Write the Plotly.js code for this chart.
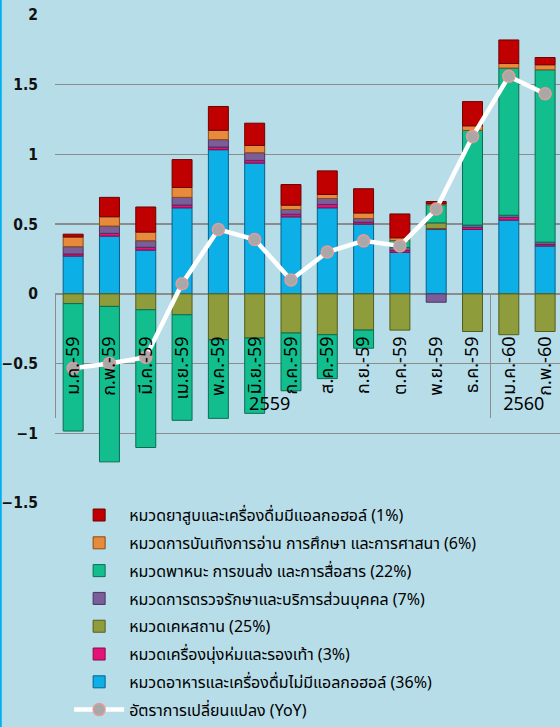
<!DOCTYPE html>
<html><head><meta charset="utf-8">
<script src="https://cdn.plot.ly/plotly-3.0.1.min.js"></script>
<style>html,body{margin:0;padding:0;background:#b7dde8;overflow:hidden}#chart{width:560px;height:727px}</style>
</head><body><div id="chart"></div>
<script>
const months = ['ม.ค.-59','ก.พ.-59','มี.ค.-59','เม.ย.-59','พ.ค.-59','มิ.ย.-59','ก.ค.-59','ส.ค.-59','ก.ย.-59','ต.ค.-59','พ.ย.-59','ธ.ค.-59','ม.ค.-60','ก.พ.-60'];
const years = ['2559','2559','2559','2559','2559','2559','2559','2559','2559','2559','2559','2559','2560','2560'];

const food       = [0.271, 0.414, 0.314, 0.617, 1.034, 0.938, 0.552, 0.617, 0.500, 0.298, 0.464, 0.462, 0.529, 0.343];
const clothing   = [0.015, 0.020, 0.020, 0.020, 0.019, 0.019, 0.019, 0.024, 0.014, 0.014, 0.005, 0.014, 0.019, 0.012];
const housing    = [-0.070, -0.090, -0.114, -0.150, -0.329, -0.317, -0.281, -0.293, -0.260, -0.260, 0.040, -0.270, -0.293, -0.270];
const medical    = [0.052, 0.052, 0.047, 0.055, 0.053, 0.055, 0.034, 0.043, 0.026, 0.021, -0.060, 0.017, 0.016, 0.016];
const transport  = [-0.914, -1.115, -0.988, -0.757, -0.564, -0.540, -0.414, -0.315, -0.130, 0.050, 0.130, 0.679, 1.055, 1.236];
const recreation = [0.070, 0.067, 0.062, 0.071, 0.067, 0.052, 0.031, 0.029, 0.040, 0.019, 0.008, 0.033, 0.033, 0.036];
const tobacco    = [0.020, 0.139, 0.180, 0.200, 0.171, 0.160, 0.148, 0.169, 0.174, 0.171, 0.015, 0.174, 0.169, 0.052];
const yoy        = [-0.534, -0.500, -0.455, 0.073, 0.462, 0.390, 0.100, 0.300, 0.380, 0.344, 0.608, 1.128, 1.560, 1.435];

const seriesNames = [
  'หมวดอาหารและเครื่องดื่มไม่มีแอลกอฮอล์ (36%)',
  'หมวดเครื่องนุ่งห่มและรองเท้า (3%)',
  'หมวดเคหสถาน (25%)',
  'หมวดการตรวจรักษาและบริการส่วนบุคคล (7%)',
  'หมวดพาหนะ การขนส่ง และการสื่อสาร (22%)',
  'หมวดการบันเทิงการอ่าน การศึกษา และการศาสนา (6%)',
  'หมวดยาสูบและเครื่องดื่มมีแอลกอฮอล์ (1%)'
];
const yoyName = 'อัตราการเปลี่ยนแปลง (YoY)';
const seriesValues = [food, clothing, housing, medical, transport, recreation, tobacco];
const fillColors = ['#0db0e6','#e5127a','#8f9c3c','#7b5e99','#12be8e','#e88a3c','#c00000'];
const edgeColors = ['#06608a','#8a0a48','#545c1c','#463560','#0a6e52','#8a4a14','#6e0000'];

const yRange = [-1.5, 2];
// rotated month labels hang a little below the zero line: pad their top end
const monthLabels = months.map(m => m + '\u00a0\u00a0\u00a0');
const xcat = [years, monthLabels];

const traces = [{
  type: 'scatter', mode: 'lines+markers', name: yoyName, legendgroup: 'g8', legendrank: 100,
  x: xcat, y: yoy,
  line: {color: '#ffffff', width: 4.5},
  marker: {size: 12, color: '#a8a8a8', line: {color: '#e79a9a', width: 1.5}}
}];
seriesValues.forEach((vals, i) => {
  traces.push({
    type: 'bar', name: seriesNames[i], legendgroup: 'g' + i, legendrank: 10 * (seriesValues.length - i),
    x: xcat, y: vals, width: 0.55,
    marker: {color: fillColors[i], line: {color: edgeColors[i], width: 1}}
  });
});

const W = 560, H = 727, ML = 55, MT = 15, MB = 224;
const thaiFont = "Tahoma, 'Noto Sans Thai', 'Noto Sans', 'DejaVu Sans', sans-serif";
const layout = {
  width: W, height: H,
  paper_bgcolor: '#b7dde8', plot_bgcolor: '#b7dde8',
  margin: {l: ML, r: 0, t: MT, b: MB, autoexpand: false},
  barmode: 'relative', bargap: 0,
  showlegend: true,
  legend: {
    x: 0.028, xanchor: 'left', y: 0.010, yanchor: 'top',
    traceorder: 'grouped', tracegroupgap: 4,
    bgcolor: 'rgba(0,0,0,0)', itemwidth: 50,
    font: {family: thaiFont, size: 16, color: '#000'}
  },
  xaxis: {
    type: 'multicategory', anchor: 'free',
    position: (0 - yRange[0]) / (yRange[1] - yRange[0]),
    range: [-0.5, 13.41],
    tickangle: -90, ticks: '', showgrid: false, showline: false,
    ticklabelstandoff: 24,
    showdividers: true, dividercolor: '#8c8c8c', dividerwidth: 1,
    tickfont: {family: thaiFont, size: 18, color: '#000'}
  },
  yaxis: {
    range: yRange, dtick: 0.5, tick0: 0,
    showgrid: true, gridcolor: '#8c8c8c', gridwidth: 1.3,
    zeroline: true, zerolinecolor: '#8c8c8c', zerolinewidth: 1.3,
    showline: false, ticks: '', ticklabelstandoff: 16,
    tickfont: {family: "'DejaVu Sans Condensed', 'DejaVu Sans', sans-serif", size: 15.5, color: '#111', weight: 'bold'}
  },
  shapes: [{
    type: 'line', xref: 'paper', yref: 'paper',
    x0: -ML / (W - ML) + 0.001, x1: -ML / (W - ML) + 0.001,
    y0: -MB / (H - MT - MB), y1: 1 + MT / (H - MT - MB),
    line: {color: '#00b0f0', width: 2.5}
  }]
};
Plotly.newPlot('chart', traces, layout, {displayModeBar: false, staticPlot: true});
</script>
</body></html>
